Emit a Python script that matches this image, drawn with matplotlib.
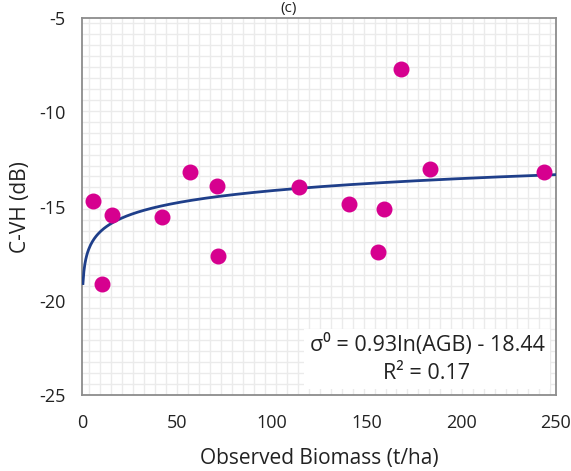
import numpy as np
import matplotlib.pyplot as plt

plt.rcParams['font.family'] = ['Open Sans', 'DejaVu Sans']
plt.rcParams['axes.unicode_minus'] = False

# observed biomass (t/ha) and C-band VH backscatter (dB)
biomass = [5.8, 10.6, 15.8, 42.2, 57.0, 71.3, 71.6, 114.5, 140.8, 156.0, 159.3, 168.3, 183.5, 243.7]
c_vh = [-14.71, -19.1, -15.45, -15.56, -13.17, -13.91, -17.6, -13.96, -14.87, -17.4, -15.13, -7.7, -13.0, -13.17]

# logarithmic fit coefficients
fit_a = 0.93
fit_b = -18.44

fig = plt.figure(figsize=(5.71, 4.71), dpi=100)
ax = fig.add_axes([0.1436, 0.1614, 0.830, 0.800])

# graph-paper style grid (about 11 px squares)
ax.set_xticks(np.arange(3.5, 250, 5.8), minor=True)
ax.set_yticks(np.arange(-24.42, -5, 0.58), minor=True)
ax.grid(True, which='minor', color='#ebebeb', lw=1.0)
ax.set_axisbelow(True)

xs = np.linspace(0.5, 250, 500)
ax.plot(xs, fit_a * np.log(xs) + fit_b, color='#1f3f8a', lw=2, zorder=3)
ax.scatter(biomass, c_vh, s=110, color='#d6008f', zorder=4)

ax.set_xlim(0, 250)
ax.set_ylim(-25, -5)
ax.set_xticks([0, 50, 100, 150, 200, 250])
ax.set_yticks([-25, -20, -15, -10, -5])
ax.tick_params(which='both', length=0, labelsize=13, colors='#222222')
ax.tick_params(axis='x', pad=14)
ax.tick_params(axis='y', pad=12)
for s in ax.spines.values():
    s.set_color('#8c8c8c')
    s.set_linewidth(1.3)

ax.set_xlabel('Observed Biomass (t/ha)', fontsize=15, labelpad=11, color='#222222')
ax.set_ylabel('C-VH (dB)', fontsize=15, labelpad=6, color='#222222')

ax.text(0.728, 0.03, 'σ⁰ = 0.93ln(AGB) - 18.44\nR² = 0.17', transform=ax.transAxes,
        ha='center', va='bottom', fontsize=15.5, linespacing=1.4, color='#222222',
        bbox=dict(facecolor='white', edgecolor='none', pad=4), zorder=5)

fig.text(0.505, 0.998, '(c)', ha='center', va='top', fontsize=11, color='#222222')

fig.savefig('out.png', dpi=100)
